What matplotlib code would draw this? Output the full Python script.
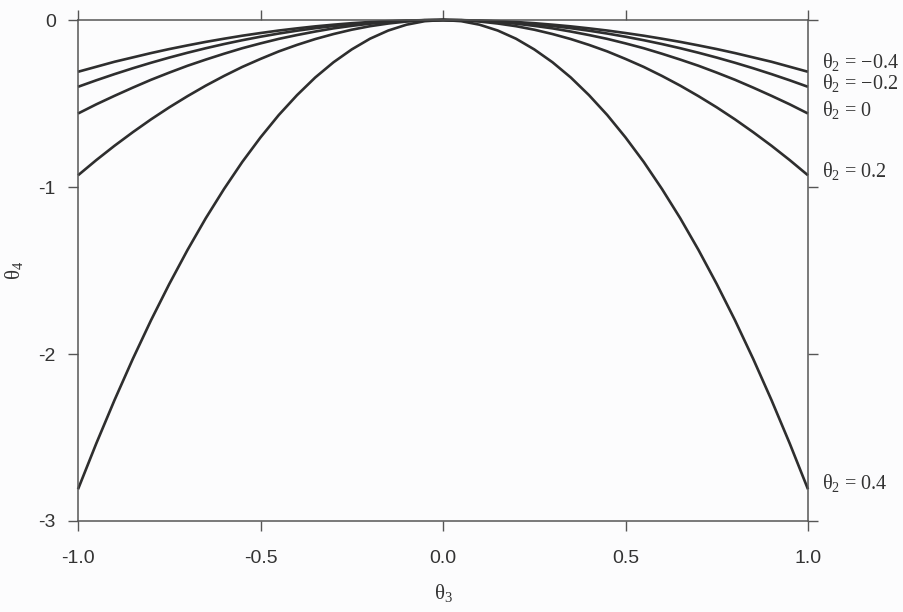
import matplotlib
matplotlib.use("Agg")
import matplotlib.pyplot as plt

plt.rcParams["mathtext.fontset"] = "custom"
plt.rcParams["mathtext.rm"] = "Liberation Serif"
plt.rcParams["mathtext.it"] = "Liberation Serif"
plt.rcParams["mathtext.default"] = "rm"

# theta3 grid (left half, mirrored) and theta4 values
theta3_half = [-1.0, -0.95, -0.9, -0.85, -0.8, -0.75, -0.7, -0.65, -0.6, -0.55, -0.5,
               -0.45, -0.4, -0.35, -0.3, -0.25, -0.2, -0.15, -0.1, -0.05, 0.0]
half_m04 = [-0.31, -0.28, -0.25, -0.224, -0.198, -0.174, -0.152, -0.131, -0.112, -0.094,
            -0.078, -0.063, -0.050, -0.038, -0.028, -0.019, -0.012, -0.007, -0.003, -0.001, 0.0]
half_m02 = [-0.40, -0.361, -0.324, -0.289, -0.256, -0.225, -0.196, -0.169, -0.144, -0.121,
            -0.100, -0.081, -0.064, -0.049, -0.036, -0.025, -0.016, -0.009, -0.004, -0.001, 0.0]
half_0 = [-0.56, -0.505, -0.454, -0.405, -0.358, -0.315, -0.274, -0.237, -0.202, -0.169,
          -0.140, -0.113, -0.090, -0.069, -0.050, -0.035, -0.022, -0.013, -0.006, -0.001, 0.0]
half_02 = [-0.93, -0.839, -0.753, -0.672, -0.595, -0.523, -0.456, -0.393, -0.335, -0.281,
           -0.233, -0.188, -0.149, -0.114, -0.084, -0.058, -0.037, -0.021, -0.009, -0.002, 0.0]
half_04 = [-2.81, -2.536, -2.276, -2.030, -1.798, -1.581, -1.377, -1.187, -1.012, -0.850,
           -0.703, -0.569, -0.450, -0.344, -0.253, -0.176, -0.112, -0.063, -0.028, -0.007, 0.0]

theta2 = ["\u22120.4", "\u22120.2", "0", "0.2", "0.4"]

theta3 = theta3_half + [-v for v in theta3_half[-2::-1]]
curves = [h + h[-2::-1] for h in (half_m04, half_m02, half_0, half_02, half_04)]

line_col = "#2e2e2e"
axis_col = "#555555"
text_col = "#333333"

fig = plt.figure(figsize=(9.04, 6.12), dpi=100)
fig.patch.set_facecolor("#fcfcfd")
ax = fig.add_axes([0.0863, 0.1487, 0.8075, 0.8186])
ax.set_facecolor("#fcfcfd")

for vals in curves:
    ax.plot(theta3, vals, color=line_col, lw=1.9, solid_capstyle="butt", clip_on=False)

# labels at the right end of each curve (vertical offsets in points)
dys = [2.5, -1.5, -1.5, -1.5, 0]
for lab, vals, dy in zip(theta2, curves, dys):
    ax.annotate("\u03b8${}_2$ = " + lab, xy=(1.0, vals[-1]), xytext=(10, dy),
                textcoords="offset points", va="baseline", ha="left",
                family="Liberation Serif", fontsize=14.5, color=text_col,
                annotation_clip=False)

ax.set_xlim(-1.0, 1.0)
ax.set_ylim(-3, 0)
ax.set_xticks([-1.0, -0.5, 0.0, 0.5, 1.0])
ax.set_xticklabels(["-1.0", "-0.5", "0.0", "0.5", "1.0"])
ax.set_yticks([0, -1, -2, -3])
ax.set_yticklabels(["0", "-1", "-2", "-3"])

for s in ax.spines.values():
    s.set_color(axis_col)
    s.set_linewidth(1.1)
ax.tick_params(axis="both", which="both", direction="out", length=7, width=1.0,
               color=axis_col, top=True, right=True, labeltop=False, labelright=False,
               labelsize=14, labelcolor=text_col, labelfontfamily="Liberation Sans")
ax.tick_params(axis="x", pad=14)
ax.tick_params(axis="y", pad=9)

ax.set_xlabel("\u03b8${}_3$", family="Liberation Serif", fontsize=15, color=text_col,
              labelpad=11)
ax.set_ylabel("\u03b8${}_4$", family="Liberation Serif", fontsize=15, color=text_col,
              labelpad=10)

fig.savefig("out.png", dpi=100, facecolor=fig.get_facecolor())
